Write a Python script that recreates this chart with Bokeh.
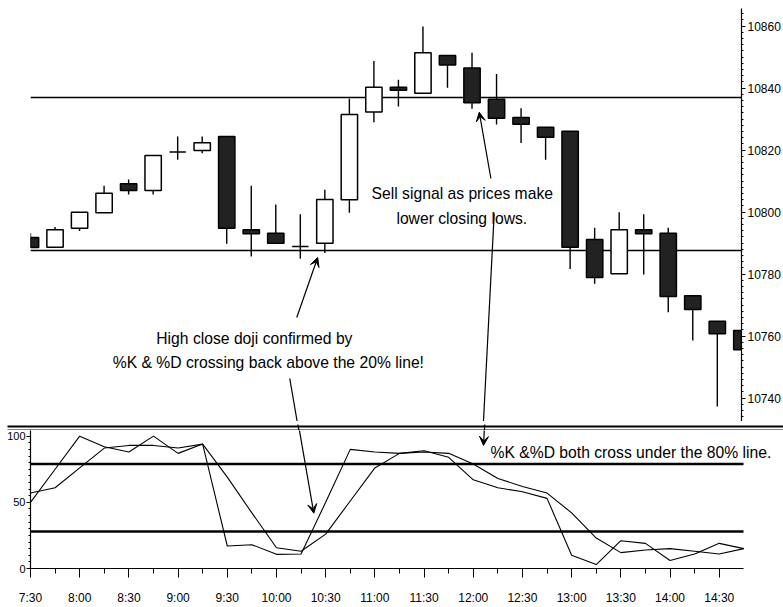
from bokeh.plotting import figure
from bokeh.layouts import column
from bokeh.models import (LinearAxis, Range1d, FixedTicker, Label, Arrow, VeeHead,
                          ColumnDataSource)
from bokeh.embed import file_html
from bokeh.resources import INLINE

# ---------------- data ----------------
times = ["7:30", "7:45", "8:00", "8:15", "8:30", "8:45", "9:00", "9:15", "9:30", "9:45",
         "10:00", "10:15", "10:30", "10:45", "11:00", "11:15", "11:30", "11:45", "12:00", "12:15",
         "12:30", "12:45", "13:00", "13:15", "13:30", "13:45", "14:00", "14:15", "14:30", "14:45"]
opens = [10791.8, 10788.7, 10794.8, 10799.8, 10809.2, 10807.0, 10819.4, 10819.9, 10824.4, 10794.3,
         10793.2, 10788.9, 10790.0, 10804.0, 10832.3, 10840.3, 10838.4, 10850.5, 10846.5, 10836.4,
         10830.5, 10827.4, 10826.1, 10791.2, 10780.1, 10794.3, 10793.2, 10773.0, 10764.8, 10761.8]
highs = [10793.2, 10795.2, 10800.0, 10808.5, 10810.5, 10818.3, 10824.4, 10824.4, 10824.4, 10808.5,
         10802.5, 10799.3, 10807.2, 10836.6, 10848.8, 10842.7, 10859.9, 10850.5, 10851.4, 10844.6,
         10833.5, 10827.4, 10826.1, 10795.0, 10800.0, 10799.3, 10795.0, 10773.0, 10764.8, 10761.8]
lows = [10788.6, 10788.7, 10793.9, 10799.8, 10805.7, 10805.7, 10816.9, 10819.0, 10789.8, 10785.7,
        10790.0, 10785.0, 10786.8, 10799.8, 10829.0, 10834.1, 10838.4, 10840.1, 10833.4, 10828.3,
        10822.3, 10816.9, 10781.7, 10776.9, 10780.1, 10779.9, 10767.7, 10758.6, 10737.3, 10755.6]
closes = [10788.6, 10794.3, 10800.0, 10806.1, 10807.0, 10818.3, 10819.4, 10822.4, 10794.8, 10793.0,
          10790.0, 10788.9, 10804.1, 10831.5, 10840.3, 10839.3, 10851.4, 10847.5, 10835.3, 10830.3,
          10828.4, 10824.2, 10788.7, 10778.9, 10794.3, 10793.0, 10772.8, 10768.6, 10760.8, 10755.6]
k_values = [50, 75, 100, 92, 88, 100, 87, 94, 17, 18,
            10.7, 11, 50, 90, 88, 87, 89, 84, 67, 61,
            58, 53, 10, 3, 21, 19, 6, 11, 19, 15]
d_values = [57, 61, 76, 91, 93, 93, 91, 94, 69, 42,
            15.7, 13, 26, 51, 76, 87, 88, 87, 79, 68,
            62, 57, 42, 23, 12, 14, 15, 13, 11, 15]
price_levels = [10837.0, 10787.5]
stoch_levels = [79, 28]
price_ticks = [10740, 10760, 10780, 10800, 10820, 10840, 10860]
stoch_ticks = [0, 50, 100]
time_tick_labels = ["7:30", "8:00", "8:30", "9:00", "9:30", "10:00", "10:30", "11:00",
                    "11:30", "12:00", "12:30", "13:00", "13:30", "14:00", "14:30"]


def to_min(s):
    h, m = s.split(":")
    return int(h) * 60 + int(m)


x = [to_min(t) for t in times]

# ---------------- geometry ----------------
FONT = "Liberation Sans"
W = 783
LB, RB = 30, 40                 # left / right borders (px)
FRAME_W = W - LB - RB           # width of the price frame (713)
X0, X1 = 450, 884.8             # visible time span of the price frame
PXM = FRAME_W / (X1 - X0)       # px per minute
P_TOP = 10865.7
A_TOP, A_H = 8, 421             # price figure: frame from page y 8 to 421
P_BOT = P_TOP - (A_H - A_TOP) / 3.1
S_Y0, S_Y1 = 421, 430           # separator strip
B_H, B_BOT = 177, 38            # stochastic figure (page y 430..607)
S_PX = 1.333                    # px per stochastic unit
ST_TOP = (B_H - B_BOT) / S_PX


def mx(xr):          # reference x pixel -> minutes
    return X0 + (xr - 30) / 713.0 * (X1 - X0)


def page_x(xr):      # reference x pixel -> page x
    return LB + (xr - 30) / 713.0 * FRAME_W


def py(yr):          # reference y pixel -> price
    return P_TOP - (yr - A_TOP) / 3.1


def sy(yr):          # reference y pixel -> stochastic value
    return (S_Y1 + (B_H - B_BOT) - yr) / S_PX


def style_axis(ax, size="12px"):
    ax.axis_line_color = "black"
    ax.axis_line_width = 1.2
    ax.major_tick_line_color = "black"
    ax.minor_tick_line_color = "black"
    ax.major_tick_in = 0
    ax.minor_tick_in = 0
    ax.major_label_text_font = FONT
    ax.major_label_text_color = "black"
    ax.major_label_text_font_size = size


# ================= price figure =================
pa = figure(width=W, height=A_H, output_backend="svg", toolbar_location=None,
            x_range=Range1d(X0, X1), y_range=Range1d(P_BOT, P_TOP),
            x_axis_location=None, y_axis_location=None,
            min_border_left=LB, min_border_right=RB, min_border_top=A_TOP, min_border_bottom=0)
pa.grid.grid_line_color = None
pa.outline_line_color = None
pa.frame_align = False

ax_r = LinearAxis(ticker=FixedTicker(ticks=price_ticks, minor_ticks=list(range(10734, 10866, 2))))
style_axis(ax_r)
ax_r.major_tick_out = 4
ax_r.minor_tick_out = 2
ax_r.major_label_standoff = 2
pa.add_layout(ax_r, "right")

src = ColumnDataSource(dict(
    x=x, high=highs, low=lows,
    top=[max(o, c) for o, c in zip(opens, closes)],
    bottom=[min(o, c) for o, c in zip(opens, closes)],
    fill=["white" if c >= o else "#222222" for o, c in zip(opens, closes)],
))
pa.hspan(y=price_levels, line_color="black", line_width=1.5)
pa.segment(x0="x", y0="low", x1="x", y1="high", source=src, line_color="black", line_width=1.4)
pa.vbar(x="x", width=10, top="top", bottom="bottom", source=src,
        fill_color="fill", line_color="black", line_width=1.5)

# ================= separator strip =================
ps = figure(width=W, height=S_Y1 - S_Y0, output_backend="svg", toolbar_location=None,
            x_range=Range1d(0, W), y_range=Range1d(S_Y1, S_Y0),
            x_axis_location=None, y_axis_location=None,
            min_border_left=0, min_border_right=0, min_border_top=0, min_border_bottom=0)
ps.grid.grid_line_color = None
ps.outline_line_color = None
ps.frame_align = False
ps.segment(x0=[7, 7], y0=[423.0, 426.8], x1=[W, W], y1=[423.0, 426.8],
           line_color="black", line_width=1.8)

# ================= stochastic figure =================
pb = figure(width=W, height=B_H, output_backend="svg", toolbar_location=None,
            x_range=Range1d(X0, X0 + (W - LB) / PXM), y_range=Range1d(0, ST_TOP),
            x_axis_location=None, y_axis_location=None,
            min_border_left=LB, min_border_right=0, min_border_top=0, min_border_bottom=B_BOT)
pb.grid.grid_line_color = None
pb.outline_line_color = None
pb.frame_align = False

ax_l = LinearAxis(ticker=FixedTicker(ticks=stoch_ticks, minor_ticks=list(range(0, 105, 5))))
style_axis(ax_l, "11px")
ax_l.major_tick_out = 4
ax_l.minor_tick_out = 2
ax_l.major_label_standoff = 1
pb.add_layout(ax_l, "left")

tick_pos = [to_min(t) for t in time_tick_labels]
ax_b = LinearAxis(ticker=FixedTicker(ticks=tick_pos, minor_ticks=list(range(450, 871, 15))))
ax_b.major_label_overrides = {v: lab for v, lab in zip(tick_pos, time_tick_labels)}
ax_b.bounds = (X0, X1)
style_axis(ax_b)
ax_b.major_tick_out = 9
ax_b.minor_tick_out = 5
ax_b.major_label_standoff = 13
pb.add_layout(ax_b, "below")

pb.segment(x0=[X0] * len(stoch_levels), y0=stoch_levels, x1=[X1] * len(stoch_levels),
           y1=stoch_levels, line_color="black", line_width=2.6)
pb.line(x, k_values, line_color="black", line_width=1.1)
pb.line(x, d_values, line_color="black", line_width=1.1)

# ================= annotations =================
TXT = dict(text_baseline="middle", text_font=FONT, text_font_size="15.7px", text_color="black")
pa.add_layout(Label(x=mx(254.5), y=py(338), text="High close doji confirmed by",
                    text_align="center", **TXT))
pa.add_layout(Label(x=mx(268.5), y=py(362), text="%K & %D crossing back above the 20% line!",
                    text_align="center", **TXT))
pa.add_layout(Label(x=mx(463), y=py(193), text="Sell signal as prices make",
                    text_align="center", **TXT))
pa.add_layout(Label(x=mx(462.5), y=py(218), text="lower closing lows.",
                    text_align="center", **TXT))
pb.add_layout(Label(x=mx(490), y=sy(452), text="%K &%D both cross under the 80% line.",
                    text_align="left", **TXT))

arrows = [(297, 317, 318, 257), (290, 378, 313.3, 513.3),
          (491.7, 178, 480, 111.7), (495, 213, 483, 445)]


def head():
    return VeeHead(size=9, fill_color="black", line_color="black", line_width=1)


for (xs, ys, xe, ye) in arrows:
    # the same arrow is drawn in each panel that it crosses; each panel clips it to itself
    pa.add_layout(Arrow(x_start=mx(xs), y_start=py(ys), x_end=mx(xe), y_end=py(ye),
                        line_color="black", line_width=1.2, end=head()))
    if ye > S_Y0:
        ps.add_layout(Arrow(x_start=page_x(xs), y_start=ys, x_end=page_x(xe), y_end=ye,
                            line_color="black", line_width=1.2, end=head()))
        pb.add_layout(Arrow(x_start=mx(xs), y_start=sy(ys), x_end=mx(xe), y_end=sy(ye),
                            line_color="black", line_width=1.2, end=head()))

layout = column(pa, ps, pb, spacing=0)
open("out.html", "w").write(file_html(layout, INLINE))
